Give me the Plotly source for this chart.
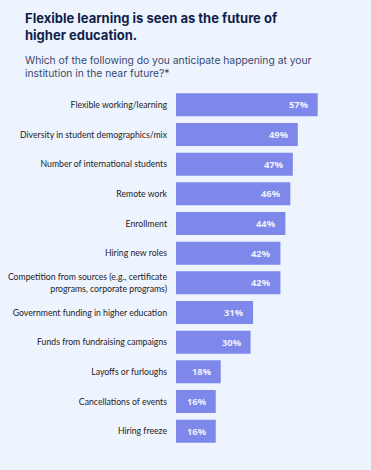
import plotly.graph_objects as go

categories = [
    "Flexible working/learning",
    "Diversity in student demographics/mix",
    "Number of international students",
    "Remote work",
    "Enrollment",
    "Hiring new roles",
    "Competition from sources (e.g., certificate<br>programs, corporate programs)",
    "Government funding in higher education",
    "Funds from fundraising campaigns",
    "Layoffs or furloughs",
    "Cancellations of events",
    "Hiring freeze",
]
values = [57, 49, 47, 46, 44, 42, 42, 31, 30, 18, 16, 16]
value_labels = [f"{v}%" for v in values]

BG = "#EEF4FD"
BAR = "#7E88EA"
NAVY = "#0F1F4B"

W, H = 371, 470
ML, MR, MT, MB = 176, 21, 90, 24
PW, PH = W - ML - MR, H - MT - MB


def px_x(X):
    return (X - ML) / PW


def px_y(Y):
    return (H - MB - Y) / PH


fig = go.Figure()
fig.add_trace(go.Bar(
    x=values, y=categories, orientation="h",
    marker=dict(color=BAR, line=dict(width=0)),
    hoverinfo="skip",
))

for c, v, t in zip(categories, values, value_labels):
    fig.add_annotation(x=v, y=c, text=f"<b>{t}</b>", showarrow=False, xanchor="right",
                       xshift=-7, font=dict(family="Open Sans", size=9.3, color="#F0F1FF"),
                       xref="x", yref="y")

fig.add_annotation(xref="paper", yref="paper", x=px_x(23), y=px_y(8),
                   xanchor="left", yanchor="top", showarrow=False, align="left",
                   text="<b>Flexible learning is seen as the future of<br>higher education.</b>",
                   font=dict(family="Inter", size=13, color=NAVY))

fig.add_annotation(xref="paper", yref="paper", x=px_x(23), y=px_y(52),
                   xanchor="left", yanchor="top", showarrow=False, align="left",
                   text="Which of the following do you anticipate happening at your<br>institution in the near future?*",
                   font=dict(family="Inter", size=10.3, color="#3A4870"))

fig.update_layout(
    width=W, height=H,
    paper_bgcolor=BG, plot_bgcolor=BG,
    margin=dict(l=ML, r=MR, t=MT, b=MB),
    bargap=0.225,
    showlegend=False,
    xaxis=dict(range=[0, 70], visible=False, fixedrange=True),
    yaxis=dict(autorange="reversed", showgrid=False, zeroline=False, showline=False,
               ticks="", ticklabelstandoff=8, automargin=False, fixedrange=True,
               tickfont=dict(family="Lato", size=8.7, color="#222228")),
    font=dict(family="Open Sans"),
)

fig.write_html("out.html", post_script="document.body.style.margin='0';",
               config={"displayModeBar": False})
